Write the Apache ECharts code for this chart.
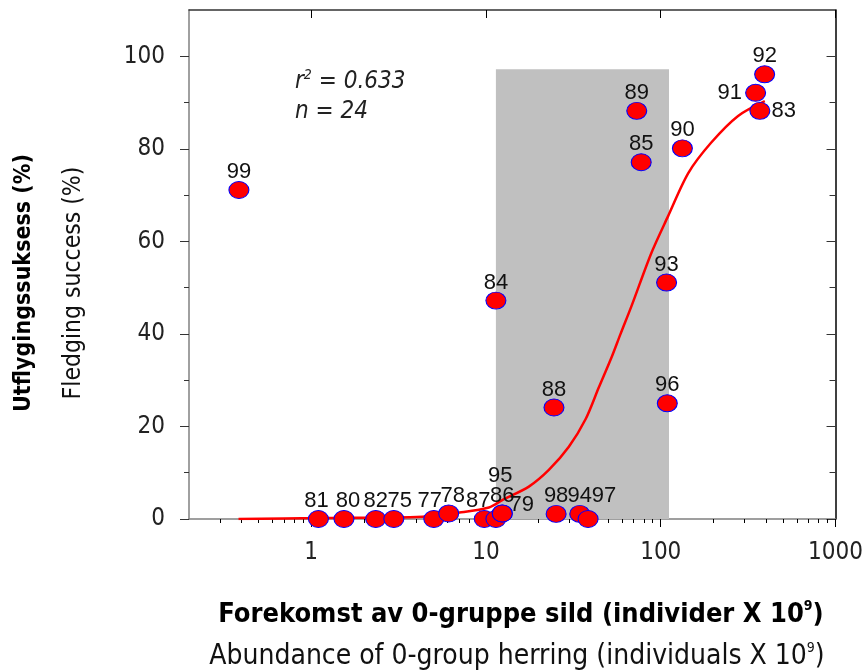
<!DOCTYPE html>
<html>
<head>
<meta charset="utf-8">
<script src="https://cdn.jsdelivr.net/npm/echarts@6/dist/echarts.min.js"></script>
<style>
html,body{margin:0;padding:0;background:#fff;}
#chart{width:866px;height:672px;}
</style>
</head>
<body>
<div id="chart"></div>
<script>
// ---- data ----
const pointLabels = ['99','81','80','82','75','77','78','87','79','86','95','98','94','97','84','88','89','85','90','93','96','91','92','83'];
const pointX = [0.386, 1.10, 1.54, 2.34, 2.97, 5.03, 6.12, 9.78, 11.4, 12.4, 12.4, 25.2, 34.4, 38.4, 11.4, 24.5, 72.9, 77.3, 133, 108, 109, 349, 393, 369];
const pointY = [71.1, 0, 0, 0, 0, 0, 1.2, 0, 0, 1.2, 1.2, 1.1, 1.1, 0, 47.2, 24.1, 88.2, 77.1, 80.1, 51.1, 25.0, 92.1, 96.1, 88.2];
const curveX = [0.384, 1.1, 4.34, 7.05, 10.4, 12.4, 17.6, 22.9, 29.8, 37.2, 44.2, 52.4, 58.9, 68.0, 88.4, 110, 144, 194, 277, 394];
const curveY = [0, 0.2, 0.5, 1.4, 2.5, 4.1, 7.0, 10.6, 15.6, 21.6, 28.4, 35.0, 40.0, 46, 57.5, 65.4, 74.8, 81.3, 87.1, 90.3];
const shadeX = [11.4, 111.5];
const shadeY = [0, 97.2];
const xTickValues = [1, 10, 100, 1000];
const xMinorTicks = [0.3,0.4,0.5,0.6,0.7,0.8,0.9,2,3,4,5,6,7,8,9,20,30,40,50,60,70,80,90,200,300,400,500,600,700,800,900];
const yTickValues = [0, 20, 40, 60, 80, 100];
const yMinorTicks = [10, 30, 50, 70, 90];
const statsText = ['0.633', '24'];

// ---- label placement (style only) ----
const labelPos = {'91': 'left', '83': 'right', '79': 'right'};
const labelShift = {'95': [-2, -20], '97': [16, -5], '87': [-6, 0], '78': [4, 0], '77': [-4, 0],
  '75': [6, 0], '80': [4, 0], '81': [-2, 0], '79': [2, -14], '91': [-2, 0], '83': [0, 0]};
const TOP_DY = 3;

const FONT = 'DejaVu Sans Condensed';
const scatterData = pointLabels.map((n, i) => ({
  name: n, value: [pointX[i], pointY[i]],
  label: {position: labelPos[n] || 'top'}
}));
const curveData = curveX.map((x, i) => [x, curveY[i]]);

const chart = echarts.init(document.getElementById('chart'), null, {renderer: 'canvas'});

const baseX = {type: 'log', logBase: 10, min: 0.2, max: 1000, splitLine: {show: false}};
const baseY = {type: 'value', min: 0, max: 110, splitLine: {show: false}};

const option = {
  backgroundColor: '#fff',
  animation: false,
  grid: {left: 189, right: 28, top: 10, bottom: 153, containLabel: false},
  xAxis: [
    Object.assign({}, baseX, {
      position: 'bottom',
      axisLine: {show: true, onZero: false, lineStyle: {color: '#808080', width: 1.5}},
      axisTick: {show: true, inside: false, length: 8, customValues: xTickValues, lineStyle: {color: '#000', width: 1}},
      axisLabel: {show: true, customValues: xTickValues, margin: 22, fontFamily: FONT, fontSize: 24, color: '#222',
        formatter: v => String(Math.round(v))}
    }),
    Object.assign({}, baseX, {
      position: 'bottom',
      axisLine: {show: false},
      axisTick: {show: true, inside: false, length: 4, customValues: xMinorTicks, lineStyle: {color: '#000', width: 1}},
      axisLabel: {show: false}
    }),
    Object.assign({}, baseX, {
      position: 'top',
      axisLine: {show: true, onZero: false, lineStyle: {color: '#333', width: 1.5}},
      axisTick: {show: true, inside: true, length: 8, customValues: xTickValues, lineStyle: {color: '#000', width: 1}},
      axisLabel: {show: false}
    }),
    Object.assign({}, baseX, {
      position: 'top',
      axisLine: {show: false},
      axisTick: {show: true, inside: true, length: 4, customValues: xMinorTicks, lineStyle: {color: '#000', width: 1}},
      axisLabel: {show: false}
    })
  ],
  yAxis: [
    Object.assign({}, baseY, {
      position: 'left',
      axisLine: {show: true, onZero: false, lineStyle: {color: '#808080', width: 1.5}},
      axisTick: {show: true, inside: false, length: 9, customValues: yTickValues, lineStyle: {color: '#333', width: 1}},
      axisLabel: {show: true, customValues: yTickValues, margin: 24, fontFamily: FONT, fontSize: 24, color: '#222'}
    }),
    Object.assign({}, baseY, {
      position: 'left',
      axisLine: {show: false},
      axisTick: {show: true, inside: false, length: 5, customValues: yMinorTicks, lineStyle: {color: '#333', width: 1}},
      axisLabel: {show: false}
    }),
    Object.assign({}, baseY, {
      position: 'right',
      axisLine: {show: true, onZero: false, lineStyle: {color: '#000', width: 1.5}},
      axisTick: {show: true, inside: true, length: 9, customValues: yTickValues, lineStyle: {color: '#333', width: 1}},
      axisLabel: {show: false}
    }),
    Object.assign({}, baseY, {
      position: 'right',
      axisLine: {show: false},
      axisTick: {show: true, inside: true, length: 6, customValues: yMinorTicks, lineStyle: {color: '#333', width: 1}},
      axisLabel: {show: false}
    })
  ],
  series: [
    {
      type: 'line',
      xAxisIndex: 0, yAxisIndex: 0,
      data: curveData,
      smooth: 0.3,
      showSymbol: false,
      symbol: 'none',
      lineStyle: {color: '#ff0000', width: 2.5},
      z: 3,
      markArea: {
        silent: true,
        itemStyle: {color: '#c0c0c0', opacity: 1},
        data: [[{coord: [shadeX[0], shadeY[0]]}, {coord: [shadeX[1], shadeY[1]]}]],
        z: 1
      }
    },
    {
      type: 'scatter',
      xAxisIndex: 0, yAxisIndex: 0,
      data: scatterData,
      symbol: 'circle',
      symbolSize: [20, 17],
      itemStyle: {color: '#ff0000', borderColor: '#0000ff', borderWidth: 1, opacity: 1},
      label: {show: true, distance: 1, formatter: p => p.name, fontFamily: 'Liberation Sans', fontSize: 22, color: '#111'},
      labelLayout: function (params) {
        const n = pointLabels[params.dataIndex];
        const s = labelShift[n] || [0, 0];
        const base = labelPos[n] ? 0 : TOP_DY;
        return {dx: s[0], dy: s[1] + base, hideOverlap: false};
      },
      z: 5
    }
  ],
  graphic: [
    {type: 'text', x: 24, y: 283, rotation: Math.PI / 2,
      style: {text: 'Utflygingssuksess (%)', fontFamily: FONT, fontWeight: 'bold', fontSize: 23, fill: '#000', align: 'center', verticalAlign: 'middle'}},
    {type: 'text', x: 74, y: 283, rotation: Math.PI / 2,
      style: {text: 'Fledging success (%)', fontFamily: FONT, fontSize: 24.5, fill: '#111', align: 'center', verticalAlign: 'middle'}},
    {type: 'text', x: 521, y: 615,
      style: {text: '{b|Forekomst av 0-gruppe sild (individer X 10}{bs|9}{b|)}', align: 'center', verticalAlign: 'middle',
        rich: {b: {fontFamily: FONT, fontWeight: 'bold', fontSize: 27, fill: '#000', lineHeight: 32},
               bs: {fontFamily: FONT, fontWeight: 'bold', fontSize: 14, fill: '#000', verticalAlign: 'top', lineHeight: 32}}}},
    {type: 'text', x: 517, y: 657,
      style: {text: '{r|Abundance of 0-group herring (individuals X 10}{rs|9}{r|)}', align: 'center', verticalAlign: 'middle',
        rich: {r: {fontFamily: FONT, fontSize: 28, fill: '#111', lineHeight: 32},
               rs: {fontFamily: FONT, fontSize: 14, fill: '#111', verticalAlign: 'top', lineHeight: 32}}}},
    {type: 'text', x: 295, y: 82,
      style: {text: '{i|r}{s|2}{i| = ' + statsText[0] + '}', align: 'left', verticalAlign: 'middle',
        rich: {i: {fontFamily: FONT, fontStyle: 'italic', fontSize: 24, fill: '#222', lineHeight: 28},
               s: {fontFamily: FONT, fontStyle: 'italic', fontSize: 14, fill: '#222', verticalAlign: 'top', lineHeight: 28}}}},
    {type: 'text', x: 295, y: 112,
      style: {text: 'n = ' + statsText[1], align: 'left', verticalAlign: 'middle',
        fontFamily: FONT, fontStyle: 'italic', fontSize: 24, fill: '#222'}}
  ]
};
chart.setOption(option);
</script>
</body>
</html>
